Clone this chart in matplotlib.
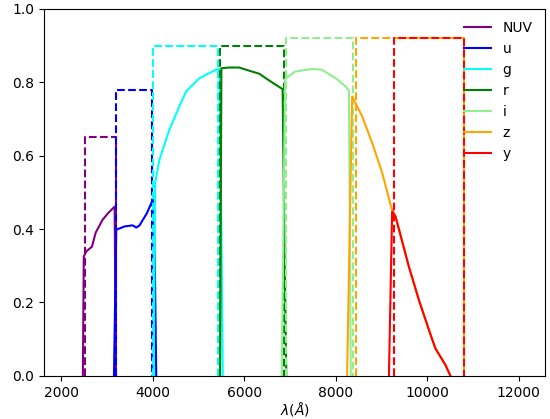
import matplotlib
matplotlib.use("Agg")
import matplotlib.pyplot as plt

# filter names and colours
bands = ["NUV", "u", "g", "r", "i", "z", "y"]
colors = ["purple", "blue", "cyan", "green", "lightgreen", "orange", "red"]

# throughput curves (wavelength in Angstrom, throughput)
nuv_wave = [2470, 2490, 2545, 2670, 2750, 2900, 3020, 3165, 3180, 3195]
nuv_thru = [0.0, 0.325, 0.339, 0.352, 0.39, 0.425, 0.443, 0.461, 0.2, 0.0]

u_wave = [3150, 3200, 3380, 3560, 3640, 3710, 3870, 3965, 4015, 4045, 4075]
u_thru = [0.0, 0.398, 0.407, 0.41, 0.404, 0.41, 0.443, 0.47, 0.484, 0.3, 0.0]

g_wave = [4020, 4050, 4145, 4360, 4600, 4730, 5020, 5380, 5455, 5500, 5530]
g_thru = [0.0, 0.525, 0.589, 0.67, 0.74, 0.775, 0.811, 0.834, 0.836, 0.4, 0.0]

r_wave = [5470, 5500, 5670, 5890, 6040, 6330, 6470, 6690, 6840, 6875, 6920]
r_thru = [0.0, 0.838, 0.84, 0.84, 0.834, 0.823, 0.811, 0.793, 0.781, 0.4, 0.0]

i_wave = [6820, 6895, 7110, 7480, 7700, 8000, 8220, 8290, 8310, 8330]
i_thru = [0.0, 0.809, 0.829, 0.836, 0.834, 0.811, 0.788, 0.777, 0.4, 0.0]

z_wave = [8250, 8360, 8580, 8800, 9020, 9220, 9310, 9600, 9820, 10040, 10180, 10400, 10510]
z_thru = [0.0, 0.761, 0.707, 0.634, 0.552, 0.457, 0.434, 0.298, 0.207, 0.125, 0.075, 0.03, 0.0]

y_wave = [9165, 9235, 9310, 9600, 9820, 10040, 10180, 10400, 10510]
y_thru = [0.0, 0.448, 0.434, 0.298, 0.207, 0.125, 0.075, 0.03, 0.0]

# idealised top-hat windows: lower edge, upper edge, height
box_lo = [2510, 3200, 4000, 5470, 6920, 8440, 9275]
box_hi = [3185, 3980, 5420, 6860, 8380, 10800, 10800]
box_h = [0.65, 0.78, 0.90, 0.90, 0.92, 0.92, 0.92]

waves = [nuv_wave, u_wave, g_wave, r_wave, i_wave, z_wave, y_wave]
thrus = [nuv_thru, u_thru, g_thru, r_thru, i_thru, z_thru, y_thru]

fig = plt.figure(figsize=(5.5, 4.19), dpi=100)
ax = fig.add_axes([0.08, 0.103, 0.911, 0.876])

for name, c, w, t, lo, hi, h in zip(bands, colors, waves, thrus, box_lo, box_hi, box_h):
    ax.plot(w, t, color=c, lw=1.5, label=name)
    ax.plot([lo, lo, hi, hi], [0, h, h, 0], color=c, lw=1.5, ls="--")

ax.set_xlim(1620, 12580)
ax.set_ylim(0, 1.0)
ax.set_xlabel(r"$\lambda(\AA)$", labelpad=0)
ax.legend(loc="upper right", frameon=False)

fig.savefig("out.png", dpi=100)
